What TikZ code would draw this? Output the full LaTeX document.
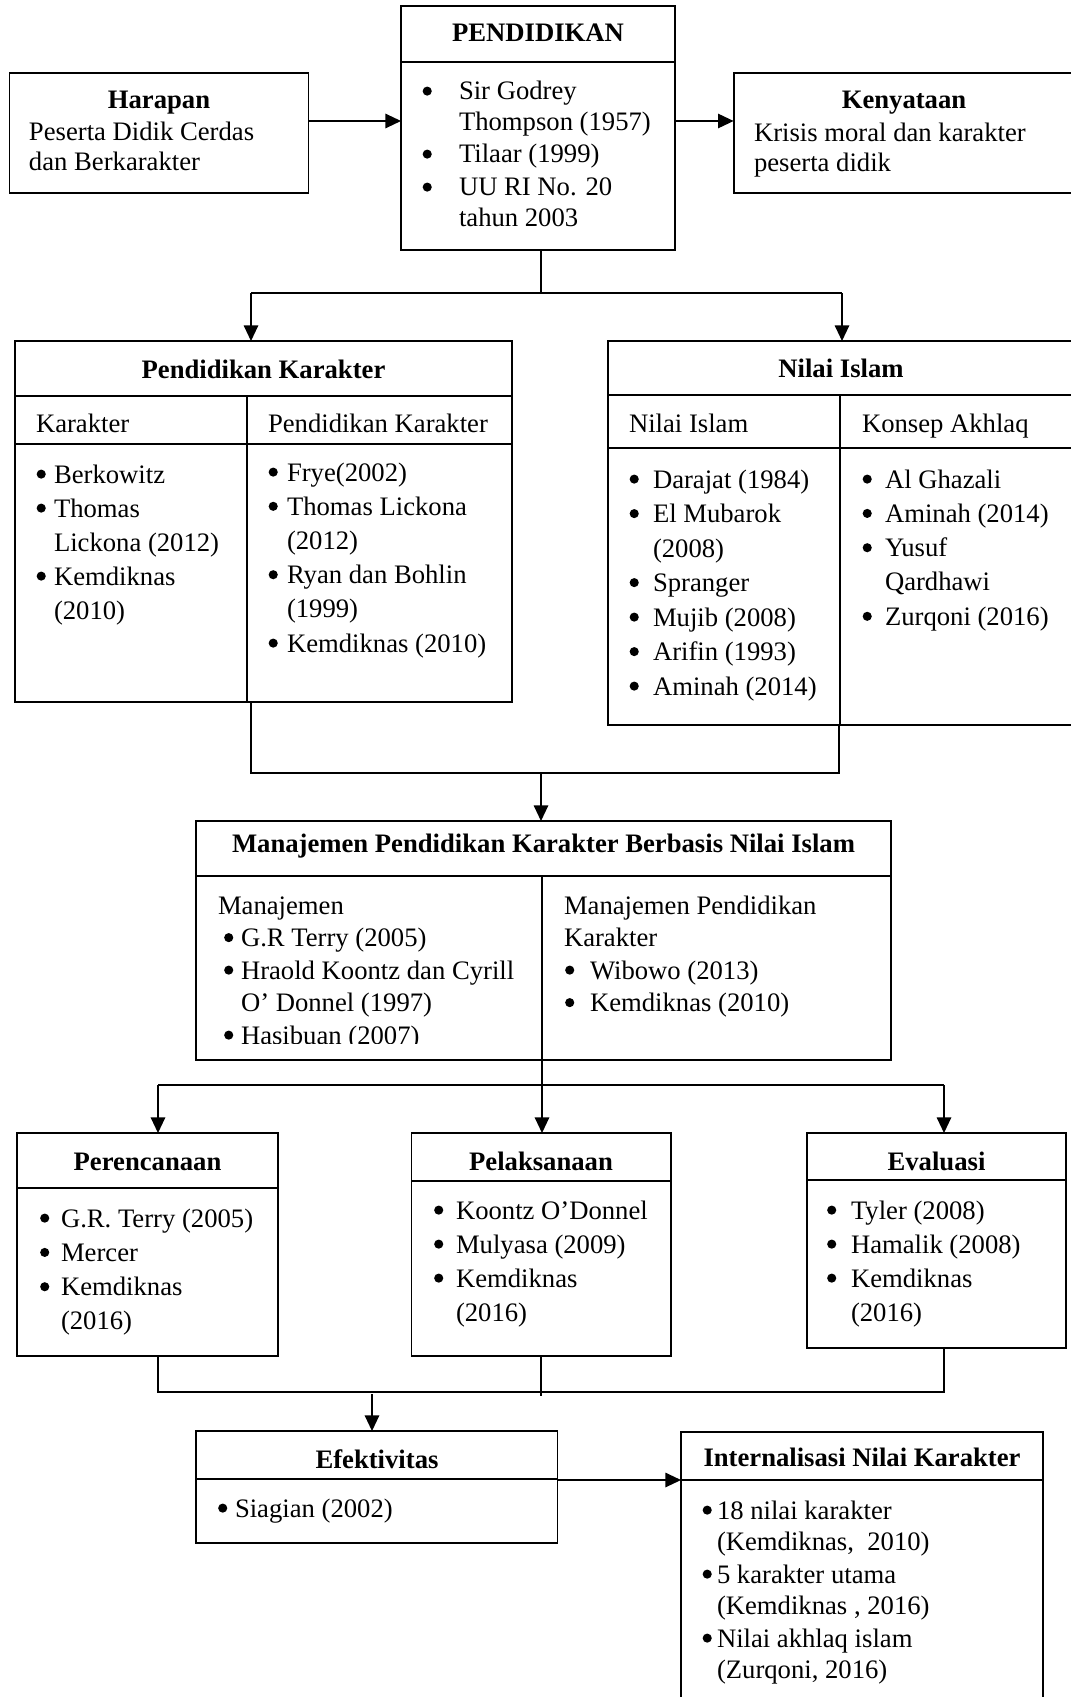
\documentclass[tikz,border=0pt]{standalone}
\usepackage{fontspec}
\setmainfont{Liberation Serif}
\usetikzlibrary{arrows.meta,calc}
\newlength\pxu \setlength\pxu{0.45pt}
\newcommand\bdot{\raisebox{1.95pt}{\tikz\fill (0,0) circle (2.05pt);}}
\newcommand\tlines[2]{\vtop{\baselineskip=#1\pxu\lineskiplimit=-\maxdimen\lineskip=0pt\relax #2}}
\newcommand\pbul[3][0]{\hbox{\hspace*{#1\pxu}\makebox[#2\pxu][l]{\hspace*{0.3pt}\bdot}#3}}
\newcommand\pcon[2]{\hbox{\hspace*{#1\pxu}#2}}
\newcommand\ptxt[1]{\hbox{#1}}
\newcommand\pgap[1]{\kern#1\pxu}
\newcommand\bx[5]{\node[box, minimum width=#4*0.45pt, minimum height=#5*0.45pt] (#1) at (#2,#3) {};}
\begin{document}
\begin{tikzpicture}[x=0.45pt,y=-0.45pt,
  every node/.style={font=\fontsize{12pt}{14pt}\selectfont, inner sep=0pt, outer sep=0pt},
  box/.style={draw, line width=0.8pt, rectangle, anchor=north west},
  div/.style={line width=0.8pt},
  conn/.style={line width=0.6pt},
  arr/.style={conn, -{Triangle[length=7pt,width=6.5pt]}},
  tb/.style={anchor=base, font=\fontsize{12pt}{14pt}\selectfont\bfseries},
  tl/.style={anchor=base west}]
\useasboundingbox (0,0) rectangle (1070,1697);

% ---------- boxes ----------
\bx{harapan}{9.5}{73}{299}{120}
\bx{pend}{401}{6}{274}{244}
\bx{keny}{733.6}{73}{342.4}{120}
\bx{pk}{15}{341}{497}{361}
\bx{ni}{608}{341}{468}{384}
\bx{mpk}{196}{821}{695}{239}
\bx{per}{17}{1133}{261}{223}
\bx{pel}{411.5}{1133}{259.5}{223}
\bx{eva}{807}{1133}{259}{215}
\bx{efk}{196}{1431}{361.5}{112}
\bx{int}{681}{1432}{362}{290}

% ---------- dividers ----------
\draw[div] (401,62) -- (675,62);
\draw[div] (15,396) -- (512,396);
\draw[div] (15,444) -- (512,444);
\draw[div] (247,396) -- (247,702);
\draw[div] (608,395) -- (1076,395);
\draw[div] (608,448) -- (1076,448);
\draw[div] (840,395) -- (840,725);
\draw[div] (196,876) -- (891,876);
\draw[div] (542,876) -- (542,1060);
\draw[div] (17,1188) -- (278,1188);
\draw[div] (411.5,1181) -- (671,1181);
\draw[div] (807,1180) -- (1066,1180);
\draw[div] (196,1479) -- (557.5,1479);
\draw[div] (681,1480) -- (1043,1480);

% ---------- texts ----------
\node[tb] (t_har) at (159,109) {Harapan};
\node[tl] (l_har) at (29,141) {\tlines{30}{\ptxt{Peserta Didik Cerdas}\ptxt{dan Berkarakter}}};

\node[tb] (t_keny) at (904,109) {Kenyataan};
\node[tl] (l_keny) at (754,142) {\tlines{29.5}{\ptxt{Krisis moral dan karakter}\ptxt{peserta didik}}};

\node[tb] (t_pend) at (538,42) {PENDIDIKAN};
\node[tl] (l_pend) at (422,100) {\tlines{31}{\pbul{37}{Sir Godrey}\pcon{37}{Thompson (1957)}\pgap{1}\pbul{37}{Tilaar (1999)}\pgap{2}\pbul{37}{UU RI No. 20}\pcon{37}{tahun 2003}}};

\node[tb] (t_pk) at (263.5,378) {Pendidikan Karakter};
\node[tl] (s_pk1) at (36,432) {Karakter};
\node[tl] (s_pk2) at (268,432) {Pendidikan Karakter};
\node[tl] (l_pk1) at (36,483) {\tlines{34}{\pbul{18}{Berkowitz}\pbul{18}{Thomas}\pcon{18}{Lickona (2012)}\pbul{18}{Kemdiknas}\pcon{18}{(2010)}}};
\node[tl] (l_pk2) at (268,481) {\tlines{34.2}{\pbul{19}{Frye(2002)}\pbul{19}{Thomas Lickona}\pcon{19}{(2012)}\pbul{19}{Ryan dan Bohlin}\pcon{19}{(1999)}\pbul{19}{Kemdiknas (2010)}}};

\node[tb] (t_ni) at (841,377) {Nilai Islam};
\node[tl] (s_ni1) at (629,432) {Nilai Islam};
\node[tl] (s_ni2) at (862,432) {Konsep Akhlaq};
\node[tl] (l_ni1) at (629,488) {\tlines{34.5}{\pbul{24}{Darajat (1984)}\pbul{24}{El Mubarok}\pcon{24}{(2008)}\pbul{24}{Spranger}\pbul{24}{Mujib (2008)}\pbul{24}{Arifin (1993)}\pbul{24}{Aminah (2014)}}};
\node[tl] (l_ni2) at (862,488) {\tlines{34.3}{\pbul{23}{Al Ghazali}\pbul{23}{Aminah (2014)}\pbul{23}{Yusuf}\pcon{23}{Qardhawi}\pbul{23}{Zurqoni (2016)}}};

\node[tb] (t_mpk) at (543.5,852) {Manajemen Pendidikan Karakter Berbasis Nilai Islam};
\begin{scope}
\clip (196,876) rectangle (541,1043);
\node[tl] (l_mpk1) at (218,914) {\tlines{32.5}{\ptxt{Manajemen}\pbul[5.5]{17.5}{G.R Terry (2005)}\pbul[5.5]{17.5}{Hraold Koontz dan Cyrill}\pcon{23}{O’ Donnel (1997)}\pbul[5.5]{17.5}{Hasibuan (2007)}}};
\end{scope}
\node[tl] (l_mpk2) at (564,914) {\tlines{32.5}{\ptxt{Manajemen Pendidikan}\ptxt{Karakter}\pbul[0.5]{25.5}{Wibowo (2013)}\pbul[0.5]{25.5}{Kemdiknas (2010)}}};

\node[tb] (t_per) at (147.5,1170) {Perencanaan};
\node[tl] (l_per) at (39.5,1227) {\tlines{34.3}{\pbul{21.5}{G.R. Terry (2005)}\pbul{21.5}{Mercer}\pbul{21.5}{Kemdiknas}\pcon{21.5}{(2016)}}};

\node[tb] (t_pel) at (541,1170) {Pelaksanaan};
\node[tl] (l_pel) at (433.5,1219) {\tlines{34}{\pbul{22.5}{Koontz O’Donnel}\pbul{22.5}{Mulyasa (2009)}\pbul{22.5}{Kemdiknas}\pcon{22.5}{(2016)}}};

\node[tb] (t_eva) at (936.5,1170) {Evaluasi};
\node[tl] (l_eva) at (826.5,1219) {\tlines{34}{\pbul{24.5}{Tyler (2008)}\pbul{24.5}{Hamalik (2008)}\pbul{24.5}{Kemdiknas}\pcon{24.5}{(2016)}}};

\node[tb] (t_efk) at (377,1468) {Efektivitas};
\node[tl] (l_efk) at (217.5,1517) {\tlines{34}{\pbul{17.5}{Siagian (2002)}}};

\node[tb] (t_int) at (862,1466) {Internalisasi Nilai Karakter};
\node[tl] (l_int) at (702,1519) {\tlines{31}{\pbul{15}{18 nilai karakter}\pcon{15}{(Kemdiknas,~ 2010)}\pgap{2}\pbul{15}{5 karakter utama}\pcon{15}{(Kemdiknas , 2016)}\pgap{2}\pbul{15}{Nilai akhlaq islam}\pcon{15}{(Zurqoni, 2016)}}};

% ---------- connectors ----------
\coordinate (hA) at ($(harapan.north east)+(0,48)$);
\draw[arr] (hA) -- (hA -| pend.west);
\coordinate (pA) at ($(pend.north east)+(0,115)$);
\draw[arr] (pA) -- (pA -| keny.west);

\coordinate (pB) at ($(pend.south)+(3,0)$);
\coordinate (j1) at (251,293);
\coordinate (j2) at (842,293);
\draw[conn] (pB) -- (pB |- j1);
\draw[conn] (j1) -- (j2);
\draw[arr] (j1) -- (j1 |- pk.north);
\draw[arr] (j2) -- (j2 |- ni.north);

\coordinate (j3) at (251,773);
\coordinate (j4) at (839,773);
\coordinate (j5) at (541,773);
\draw[conn] (j3 |- pk.south) -- (j3) -- (j4) -- (j4 |- ni.south);
\draw[arr] (j5) -- (j5 |- mpk.north);

\coordinate (j6) at (542,1085);
\coordinate (j7) at (158,1085);
\coordinate (j8) at (944,1085);
\draw[conn] (j6 |- mpk.south) -- (j6);
\draw[conn] (j7) -- (j8);
\draw[arr] (j7) -- (j7 |- per.north);
\draw[arr] (j6) -- (j6 |- pel.north);
\draw[arr] (j8) -- (j8 |- eva.north);

\coordinate (j9) at (158,1392);
\coordinate (j10) at (944,1392);
\coordinate (j11) at (541,1396);
\draw[conn] (j9 |- per.south) -- (j9) -- (j10) -- (j10 |- eva.south);
\draw[conn] (j11 |- pel.south) -- (j11);
\coordinate (j12) at (372,1394);
\draw[arr] (j12) -- (j12 |- efk.north);

\coordinate (eA) at ($(efk.north east)+(0,49)$);
\draw[arr] (eA) -- (eA -| int.west);
\end{tikzpicture}
\end{document}
